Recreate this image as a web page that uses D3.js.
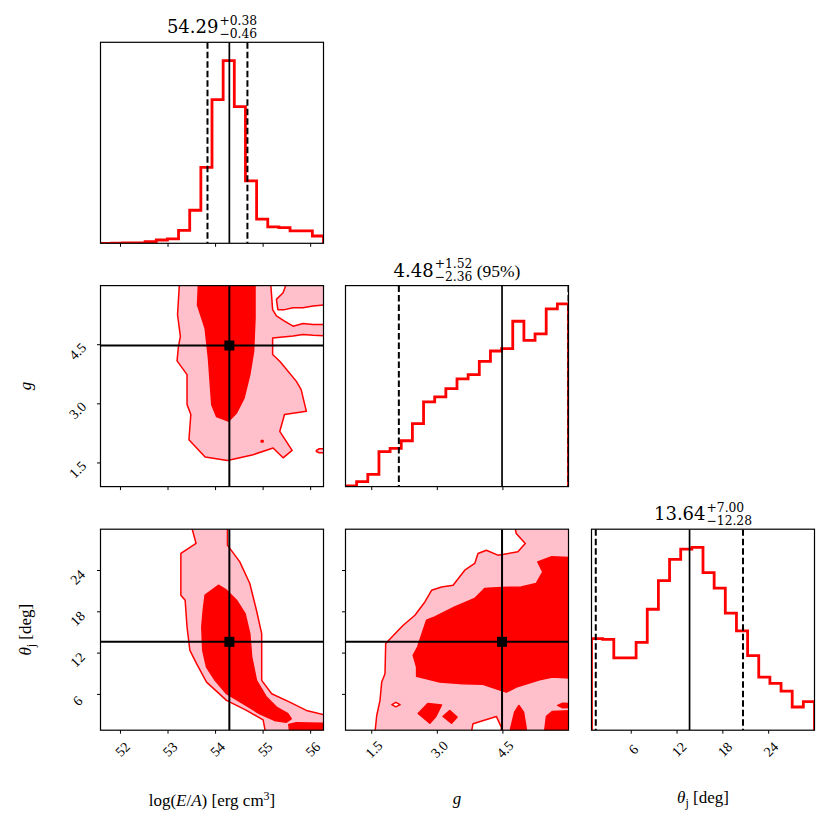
<!DOCTYPE html>
<html>
<head>
<meta charset="utf-8">
<script src="https://cdnjs.cloudflare.com/ajax/libs/d3/7.8.5/d3.min.js"></script>
<style>
body{margin:0;background:#ffffff;}
</style>
</head>
<body>
<div></div>
<script>
// parameters: log(E/A), g, theta_j
let paramRange = [[51.58, 56.27], [0.9, 6.0], [0.8, 30]];
let paramTicks = [[52, 53, 54, 55, 56], [1.5, 3.0, 4.5], [6, 12, 18, 24]];
let tickFormat = ["d", ".1f", "d"];
let medians = [54.29, 4.48, 13.64];
let lowerQ = [53.83, 2.12, 1.36];
let upperQ = [54.67, 6.00, 20.64];

// titles above the diagonal panels
let titleMain = ["54.29", "4.48", "13.64"];
let titleUp = ["+0.38", "+1.52", "+7.00"];
let titleDown = ["\u22120.46", "\u22122.36", "\u221212.28"];
let titleExtra = ["", " (95%)", ""];

// 1D histograms, 20 bins each (relative counts)
let histLogE = [0, 1, 2, 2, 9, 18, 24, 71, 181, 415, 786, 1000, 748, 342, 132, 90, 86, 68, 68, 40];
let histG = [4, 27, 67, 191, 209, 251, 345, 464, 491, 536, 589, 613, 685, 742, 755, 905, 800, 836, 973, 1000];
let histTheta = [501, 497, 396, 396, 481, 662, 819, 935, 991, 1000, 862, 777, 641, 544, 408, 290, 256, 214, 127, 156];

// 2D contours, in data units. pink = outer level, red = inner level, white = holes
let contEg_pink = [
 [[53.24,6.05],[53.20,5.26],[53.26,4.71],[53.22,4.46],[53.19,4.09],[53.40,3.74],[53.40,2.98],[53.48,2.73],[53.44,2.09],[53.78,1.65],[54.25,1.56],[54.51,1.63],[54.79,1.71],[55.21,1.88],[55.42,1.63],[55.61,1.82],[55.35,2.30],[55.45,2.73],[55.91,2.81],[55.80,3.36],[55.70,3.57],[55.35,4.08],[55.20,4.25],[55.20,4.67],[55.63,4.72],[55.84,4.76],[56.05,4.74],[56.35,4.72],[56.35,6.05]],
 [[56.12,1.82],[56.18,1.86],[56.35,1.86],[56.35,1.76],[56.18,1.76],[56.12,1.79]]
];
let contEg_white = [
 [[55.16,6.05],[55.20,5.39],[55.28,5.23],[55.45,5.10],[55.63,4.97],[55.84,5.04],[56.05,5.01],[56.35,5.01],[56.35,5.52],[56.05,5.48],[55.84,5.44],[55.63,5.44],[55.45,5.39],[55.31,5.39],[55.28,5.65],[55.42,5.82],[55.49,6.05]]
];
let contEg_red = [
 [[53.64,6.05],[53.62,5.51],[53.78,4.92],[53.85,4.16],[53.92,2.98],[54.02,2.68],[54.27,2.56],[54.44,2.77],[54.60,3.15],[54.72,3.74],[54.80,4.33],[54.83,5.18],[54.83,6.05]],
 [[54.96,2.07],[55.00,2.07],[55.00,2.03],[54.96,2.03]]
];

let contEt_pink = [
 [[53.49,30.5],[53.59,27.93],[53.27,26.47],[53.27,20.41],[53.36,19.68],[53.40,15.79],[53.46,12.40],[53.60,10.47],[53.81,7.79],[54.23,5.13],[54.65,3.67],[55.00,2.30],[55.05,0.5],[56.35,0.5],[56.35,2.94],[55.91,3.67],[55.56,4.88],[55.18,6.10],[54.97,8.04],[54.97,14.83],[54.86,18.22],[54.72,22.11],[54.51,25.25],[54.25,27.68],[54.25,30.5]]
];
let contEt_white = [];
let contEt_red = [
 [[54.06,21.86],[54.23,21.13],[54.44,19.68],[54.62,17.74],[54.72,14.83],[54.76,11.43],[54.86,8.04],[55.07,5.61],[55.28,4.15],[55.52,3.19],[55.59,2.46],[55.49,1.97],[55.24,2.22],[54.93,3.19],[54.58,4.65],[54.23,6.10],[53.99,8.04],[53.81,9.97],[53.73,12.40],[53.71,15.79],[53.74,18.22],[53.78,20.41]],
 [[55.56,0.5],[55.54,1.63],[55.70,1.88],[56.24,1.82],[56.35,1.82],[56.35,0.5]]
];

let contGt_pink = [
 [[1.575,0.5],[1.614,2.94],[1.689,5.13],[1.728,7.79],[1.803,9.01],[1.819,13.38],[2.070,15.07],[2.220,16.04],[2.487,17.50],[2.715,19.43],[2.868,21.13],[3.096,21.61],[3.360,21.86],[3.627,24.04],[3.855,25.02],[3.930,26.47],[4.121,26.95],[4.386,26.23],[4.842,26.71],[5.011,27.93],[4.805,29.38],[4.767,30.5],[6.1,30.5],[6.1,0.5]]
];
let contGt_white = [
 [[3.780,0.5],[3.816,1.74],[4.350,2.80],[4.463,1.24],[4.463,0.5]],
 [[1.96,4.52],[2.05,4.85],[2.15,4.52],[2.05,4.20]]
];
let contGt_red = [
 [[2.448,11.68],[2.549,12.88],[2.754,16.77],[2.943,17.25],[3.399,18.70],[3.855,19.93],[4.083,21.38],[4.463,21.53],[4.919,21.61],[5.261,22.11],[5.412,23.80],[5.298,25.25],[5.603,25.98],[6.1,25.89],[6.1,8.33],[5.640,8.52],[5.337,8.14],[4.806,7.06],[4.578,6.33],[4.350,6.83],[4.044,7.46],[3.588,7.56],[3.057,7.79],[2.526,8.62],[2.526,9.97]],
 [[2.562,3.24],[2.783,4.69],[3.096,4.47],[2.966,2.80],[2.829,1.82]],
 [[3.132,2.80],[3.285,3.67],[3.451,2.70],[3.324,1.82]],
 [[4.676,0.5],[4.676,1.01],[4.767,3.42],[4.865,4.40],[4.972,3.42],[5.034,1.01],[5.034,0.5]],
 [[5.451,0.5],[5.496,2.80],[5.633,3.53],[6.1,3.67],[6.1,0.5]],
 [[5.754,4.40],[5.868,4.73],[6.1,4.65],[6.1,4.15],[5.868,4.06]]
];

let svgWidth = 831;
let svgHeight = 831;
let panelLeft = [100.5, 345.5, 591.5];
let panelTop = [42.3, 285.6, 529.2];
let panelW = 223;
let panelH = 201;
let pink = "#ffc0cb";
let red = "#ff0000";

let svg = d3.select("body div")
    .append("svg")
    .attr("width", svgWidth)
    .attr("height", svgHeight);
svg.append("rect").attr("width", svgWidth).attr("height", svgHeight).attr("fill", "#ffffff");
let defs = svg.append("defs");

function xScale(j) {
	return d3.scaleLinear().domain(paramRange[j]).range([panelLeft[j], panelLeft[j] + panelW]);
}
function yScale(i) {
	return d3.scaleLinear().domain(paramRange[i]).range([panelTop[i] + panelH, panelTop[i]]);
}

function panelGroup(i, j) {
	let id = "clip" + i + j;
	defs.append("clipPath").attr("id", id)
		.append("rect")
		.attr("x", panelLeft[j]).attr("y", panelTop[i])
		.attr("width", panelW).attr("height", panelH);
	return svg.append("g").attr("clip-path", "url(#" + id + ")");
}

function vline(g, xv, i, dashed, w) {
	g.append("line")
		.attr("x1", xv).attr("x2", xv)
		.attr("y1", panelTop[i]).attr("y2", panelTop[i] + panelH)
		.attr("stroke", "#000").attr("stroke-width", w)
		.attr("stroke-dasharray", dashed ? "6.5,3" : null);
}

function frame(i, j) {
	svg.append("rect")
		.attr("x", panelLeft[j]).attr("y", panelTop[i])
		.attr("width", panelW).attr("height", panelH)
		.attr("fill", "none").attr("stroke", "#000").attr("stroke-width", 1.2);
}

// ticks: bottom ticks everywhere, left ticks on 2D panels, labels on outer panels
function ticks(i, j, yTicks) {
	let x = xScale(j);
	let bottom = panelTop[i] + panelH;
	let fx = d3.format(tickFormat[j]);
	paramTicks[j].forEach(function(t) {
		svg.append("line").attr("x1", x(t)).attr("x2", x(t))
			.attr("y1", bottom).attr("y2", bottom + 3.5)
			.attr("stroke", "#000").attr("stroke-width", 1);
		if (i == 2) {
			svg.append("text")
				.attr("transform", "translate(" + (x(t) + 2) + "," + (bottom + 19) + ") rotate(-45)")
				.attr("text-anchor", "middle").attr("dy", "0.35em")
				.attr("font-family", "Liberation Serif").attr("font-size", 14)
				.text(fx(t));
		}
	});
	if (!yTicks) return;
	let y = yScale(i);
	let fy = d3.format(tickFormat[i]);
	paramTicks[i].forEach(function(t) {
		svg.append("line").attr("x1", panelLeft[j] - 3.5).attr("x2", panelLeft[j])
			.attr("y1", y(t)).attr("y2", y(t))
			.attr("stroke", "#000").attr("stroke-width", 1);
		if (j == 0) {
			svg.append("text")
				.attr("transform", "translate(" + (panelLeft[j] - 23) + "," + (y(t) + 6.5) + ") rotate(-45)")
				.attr("text-anchor", "middle").attr("dy", "0.35em")
				.attr("font-family", "Liberation Serif").attr("font-size", 14)
				.text(fy(t));
		}
	});
}

function drawHist(k, counts) {
	let g = panelGroup(k, k);
	let x = xScale(k);
	let y = d3.scaleLinear().domain([0, 1.1 * d3.max(counts)]).range([panelTop[k] + panelH, panelTop[k]]);
	let n = counts.length;
	let lo = paramRange[k][0], hi = paramRange[k][1];
	let edges = d3.range(n + 1).map(function(b) { return lo + (hi - lo) * b / n; });
	let pts = [[edges[0], 0]];
	for (let b = 0; b < n; b++) {
		pts.push([edges[b], counts[b]]);
		pts.push([edges[b + 1], counts[b]]);
	}
	pts.push([edges[n], 0]);
	let line = d3.line().x(function(d) { return x(d[0]); }).y(function(d) { return y(d[1]); });
	g.append("path").datum(pts)
		.attr("d", line).attr("fill", "none")
		.attr("stroke", red).attr("stroke-width", 2.8).attr("stroke-linejoin", "miter");
	vline(g, x(lowerQ[k]), k, true, 2);
	vline(g, x(upperQ[k]), k, true, 2);
	vline(g, x(medians[k]), k, false, 1.7);
	frame(k, k);
	ticks(k, k, false);
	drawTitle(k);
}

function drawPolys(g, polys, x, y, fill) {
	let line = d3.line()
		.x(function(d) { return x(d[0]); })
		.y(function(d) { return y(d[1]); })
		.curve(d3.curveLinearClosed);
	g.selectAll(null).data(polys).enter().append("path")
		.attr("d", line).attr("fill", fill)
		.attr("stroke", red).attr("stroke-width", 1.5)
		.attr("stroke-linejoin", "round");
}

function draw2D(i, j, pinkPolys, whitePolys, redPolys) {
	let g = panelGroup(i, j);
	let x = xScale(j);
	let y = yScale(i);
	drawPolys(g, pinkPolys, x, y, pink);
	drawPolys(g, whitePolys, x, y, "#ffffff");
	drawPolys(g, redPolys, x, y, red);
	vline(g, x(medians[j]), i, false, 2);
	g.append("line")
		.attr("x1", panelLeft[j]).attr("x2", panelLeft[j] + panelW)
		.attr("y1", y(medians[i])).attr("y2", y(medians[i]))
		.attr("stroke", "#000").attr("stroke-width", 2);
	g.append("rect")
		.attr("x", x(medians[j]) - 5).attr("y", y(medians[i]) - 5)
		.attr("width", 10).attr("height", 10).attr("fill", "#000");
	frame(i, j);
	ticks(i, j, true);
}

// title like 54.29^{+0.38}_{-0.46}
function drawTitle(k) {
	let cx = panelLeft[k] + panelW / 2;
	let base = panelTop[k] - 9;
	let g = svg.append("g");
	let main = g.append("text").attr("x", 0).attr("y", base)
		.attr("font-family", "DejaVu Serif").attr("font-size", 18).text(titleMain[k]);
	let w = main.node().getComputedTextLength() + 1;
	let sup = g.append("text").attr("x", w).attr("y", base - 8.6)
		.attr("font-family", "DejaVu Serif").attr("font-size", 12.3).text(titleUp[k]);
	let sub = g.append("text").attr("x", w).attr("y", base + 4.5)
		.attr("font-family", "DejaVu Serif").attr("font-size", 12.3).text(titleDown[k]);
	let sw = Math.max(sup.node().getComputedTextLength(), sub.node().getComputedTextLength());
	let total = w + sw;
	if (titleExtra[k]) {
		let ex = g.append("text").attr("x", total).attr("y", base)
			.attr("font-family", "Liberation Serif").attr("font-size", 17.5)
			.attr("xml:space", "preserve").style("white-space", "pre")
			.text(titleExtra[k]);
		total += ex.node().getComputedTextLength();
	}
	g.attr("transform", "translate(" + (cx - total / 2) + ",0)");
}

function axisLabels() {
	let f = "Liberation Serif";
	// x labels
	let t0 = svg.append("text").attr("x", panelLeft[0] + panelW / 2).attr("y", 806)
		.attr("text-anchor", "middle").attr("font-family", f).attr("font-size", 17);
	t0.append("tspan").text("log(");
	t0.append("tspan").attr("font-style", "italic").text("E");
	t0.append("tspan").text("/");
	t0.append("tspan").attr("font-style", "italic").text("A");
	t0.append("tspan").text(")\u00a0[erg cm");
	t0.append("tspan").attr("font-size", 12).attr("dy", -6.5).text("3");
	t0.append("tspan").attr("dy", 6.5).text("]");

	svg.append("text").attr("x", panelLeft[1] + panelW / 2).attr("y", 804)
		.attr("text-anchor", "middle").attr("font-family", f).attr("font-size", 17)
		.attr("font-style", "italic").text("g");

	let t2 = svg.append("text").attr("x", panelLeft[2] + panelW / 2).attr("y", 803)
		.attr("text-anchor", "middle").attr("font-family", f).attr("font-size", 17);
	t2.append("tspan").attr("font-style", "italic").text("\u03b8");
	t2.append("tspan").attr("font-size", 12).attr("dy", 3.5).text("j");
	t2.append("tspan").attr("dy", -3.5).text("\u00a0[deg]");

	// y labels
	svg.append("text").attr("transform", "translate(31," + (panelTop[1] + panelH / 2) + ") rotate(-90)")
		.attr("text-anchor", "middle").attr("font-family", f).attr("font-size", 17)
		.attr("font-style", "italic").text("g");

	let t3 = svg.append("text").attr("transform", "translate(31," + (panelTop[2] + panelH / 2) + ") rotate(-90)")
		.attr("text-anchor", "middle").attr("font-family", f).attr("font-size", 17);
	t3.append("tspan").attr("font-style", "italic").text("\u03b8");
	t3.append("tspan").attr("font-size", 12).attr("dy", 3.5).text("j");
	t3.append("tspan").attr("dy", -3.5).text("\u00a0[deg]");
}

function init() {
	drawHist(0, histLogE);
	drawHist(1, histG);
	drawHist(2, histTheta);
	draw2D(1, 0, contEg_pink, contEg_white, contEg_red);
	draw2D(2, 0, contEt_pink, contEt_white, contEt_red);
	draw2D(2, 1, contGt_pink, contGt_white, contGt_red);
	axisLabels();
}

init();
</script>
</body>
</html>
